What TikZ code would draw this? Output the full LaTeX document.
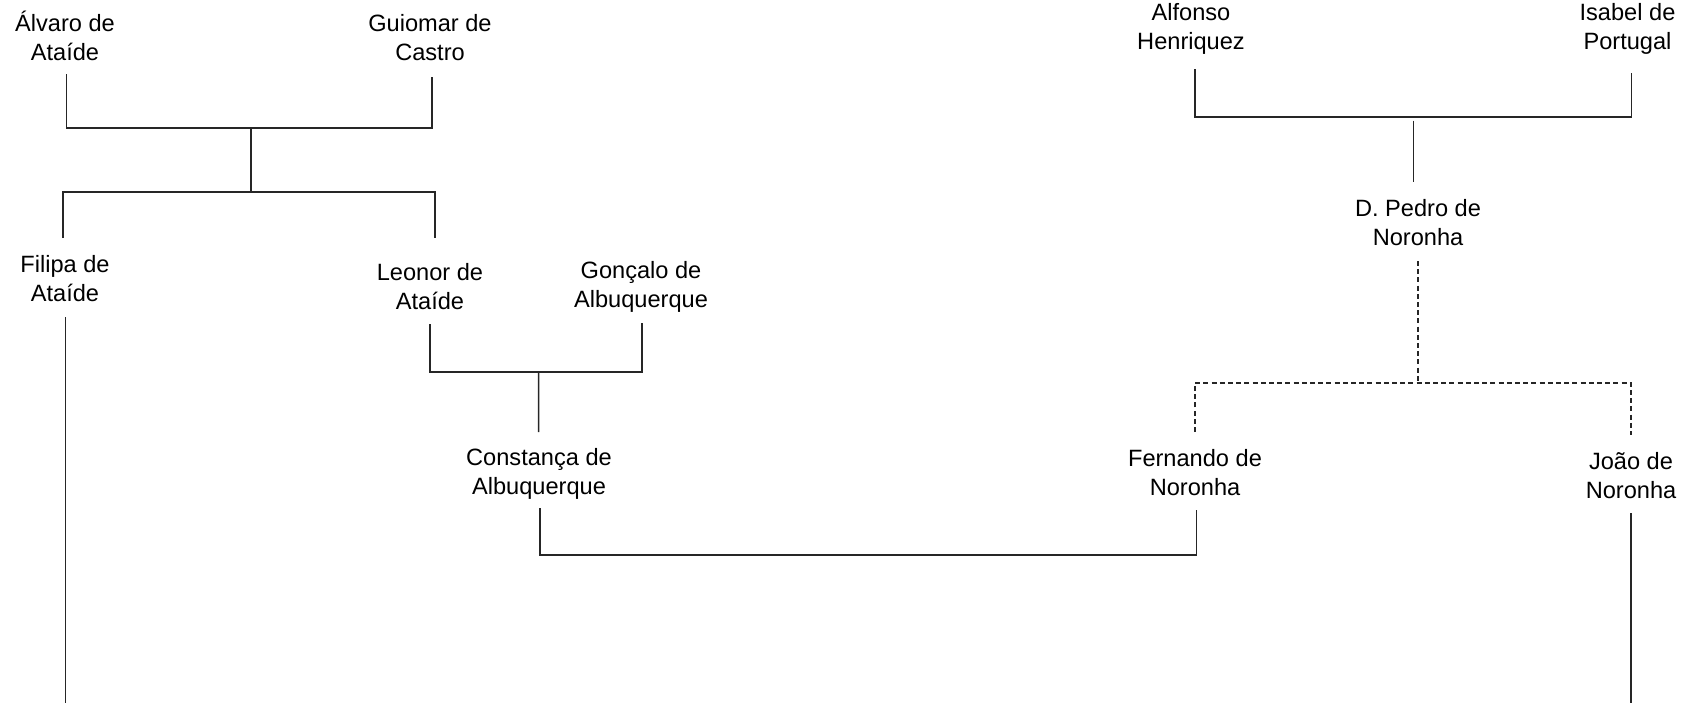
\documentclass[tikz,border=0pt]{standalone}
\usepackage{fontspec}
\setmainfont{Liberation Sans}
\begin{document}
\begin{tikzpicture}[x=0.5pt,y=-0.5pt,
  person/.style={align=center,anchor=base,inner sep=0pt,outer sep=0pt,
    font=\fontsize{11.8}{14.5}\selectfont},
  link/.style={draw=black!85,line width=0.75pt},
  dlink/.style={draw=black!85,line width=0.75pt,dash pattern=on 2.5pt off 1.6pt}]
\useasboundingbox (0,0) rectangle (1686,703);
% people (anchored at the baseline of their last line)
\node[person] (alvaro)    at (65,60.7)    {Álvaro de\\Ataíde};
\node[person] (guiomar)   at (430,60.7)   {Guiomar de\\Castro};
\node[person] (filipa)    at (65,301.5)   {Filipa de\\Ataíde};
\node[person] (leonor)    at (430,309.7)  {Leonor de\\Ataíde};
\node[person] (goncalo)   at (641,307.3)  {Gonçalo de\\Albuquerque};
\node[person] (constanca) at (539,494)    {Constança de\\Albuquerque};
\node[person] (alfonso)   at (1191,49.7)  {Alfonso\\Henriquez};
\node[person] (isabel)    at (1627.5,49.7){Isabel de\\Portugal};
\node[person] (pedro)     at (1418,245.5) {D. Pedro de\\Noronha};
\node[person] (fernando)  at (1195,495)   {Fernando de\\Noronha};
\node[person] (joao)      at (1631,498)   {João de\\Noronha};
% junctions and free ends
\coordinate (m1) at (251,128);
\coordinate (c1) at (251,192);
\coordinate (m2) at (538.7,372);
\coordinate (m4) at (1413.5,117);
\coordinate (m4b) at (1413.5,120.5);
\coordinate (m5) at (1418,383);
\coordinate (fend) at (65.5,703);
\coordinate (jend) at (1631,703);
% Alvaro + Guiomar
\draw[link] ([shift={(1.3,13.3)}]alvaro.base) |- (m1) -| ([shift={(2,16.3)}]guiomar.base);
\draw[link] (m1) -- (c1);
\draw[link] ([shift={(-2,-63.5)}]filipa.base) |- (c1) -| ([shift={(5,-71.7)}]leonor.base);
\draw[link] ([shift={(0.5,15.5)}]filipa.base) -- (fend);
% Leonor + Goncalo
\draw[link] ([shift={(0,14.3)}]leonor.base) |- (m2) -| ([shift={(1,15.7)}]goncalo.base);
\draw[link] (m2) -- ([shift={(-0.3,-62)}]constanca.base);
% Constanca + Fernando
\draw[link] ([shift={(1,14)}]constanca.base) -- ++(0,47) -| ([shift={(1.7,15)}]fernando.base);
% Alfonso + Isabel
\draw[link] ([shift={(4,19.3)}]alfonso.base) |- (m4) -| ([shift={(4.2,23.3)}]isabel.base);
\draw[link] (m4b) -- ([shift={(-4.5,-63.5)}]pedro.base);
% Pedro's children
\draw[dlink] ([shift={(0,15.5)}]pedro.base) -- (m5);
\draw[dlink] ([shift={(0,-63)}]fernando.base) |- (m5) -| ([shift={(0,-63)}]joao.base);
\draw[link] ([shift={(0,15)}]joao.base) -- (jend);
\end{tikzpicture}
\end{document}
